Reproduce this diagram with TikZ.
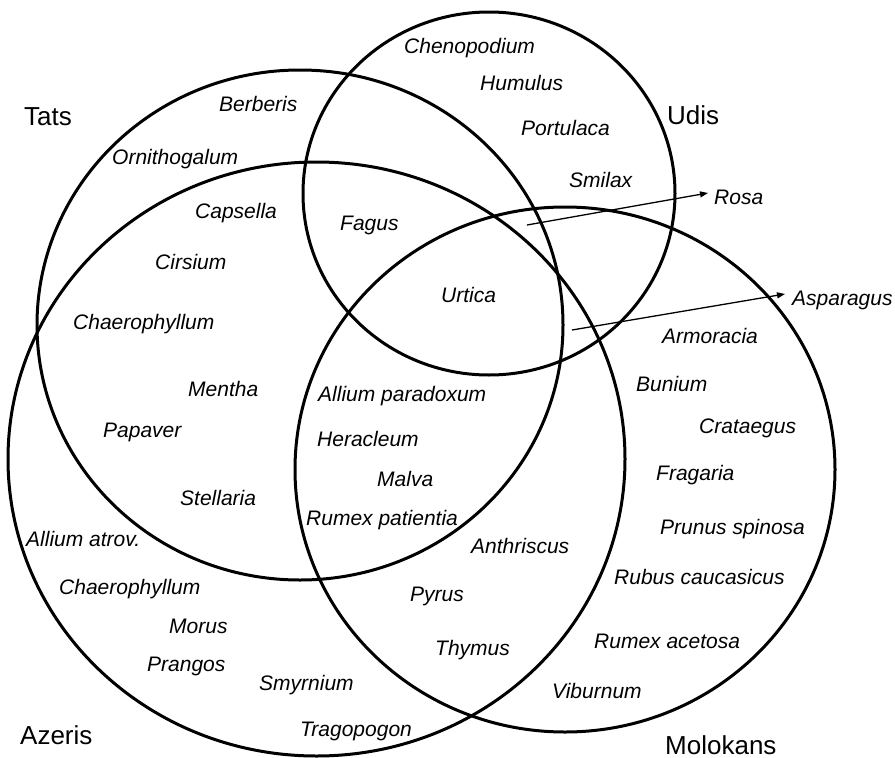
\documentclass[tikz,border=0pt]{standalone}
\usepackage{fontspec}
\setmainfont{Liberation Sans}
\usetikzlibrary{arrows.meta}
\begin{document}
\begin{tikzpicture}[x=1pt,y=-1pt,
  setline/.style={line width=3pt,black},
  sp/.style={inner sep=0pt,anchor=base west,font=\itshape\fontsize{21}{24}\selectfont},
  grp/.style={inner sep=0pt,anchor=base west,font=\fontsize{26}{30}\selectfont},
  arr/.style={line width=1.3pt,-{Triangle[length=8pt,width=6pt]}}]
\useasboundingbox (0,0) rectangle (895,758);
% sets
\draw[setline] (300,325) ellipse [x radius=263pt, y radius=255pt];
\draw[setline] (489,193.5) ellipse [x radius=186pt, y radius=181.5pt];
\draw[setline] (316.5,459) ellipse [x radius=308.5pt, y radius=297pt];
\draw[setline] (565,469.5) ellipse [x radius=270pt, y radius=262.5pt];
% group labels
\node[grp] (tats) at (24,125) {Tats};
\node[grp] (udis) at (667,124) {Udis};
\node[grp] (azeris) at (20,744) {Azeris};
\node[grp] (molokans) at (665,754) {Molokans};
% species
\node[sp] (chenopodium) at (404,53) {Chenopodium};
\node[sp] (humulus) at (480,90) {Humulus};
\node[sp] (berberis) at (219,111) {Berberis};
\node[sp] (portulaca) at (521,135) {Portulaca};
\node[sp] (ornithogalum) at (112,164) {Ornithogalum};
\node[sp] (smilax) at (569,187) {Smilax};
\node[sp] (rosa) at (714,204) {Rosa};
\node[sp] (capsella) at (195,218) {Capsella};
\node[sp] (fagus) at (340,230) {Fagus};
\node[sp] (cirsium) at (155,269) {Cirsium};
\node[sp] (urtica) at (441,302) {Urtica};
\node[sp] (asparagus) at (792,305) {Asparagus};
\node[sp] (chaero1) at (73,329) {Chaerophyllum};
\node[sp] (armoracia) at (662,343) {Armoracia};
\node[sp] (mentha) at (188,396) {Mentha};
\node[sp] (bunium) at (636,391) {Bunium};
\node[sp] (alliumpar) at (318,401) {Allium paradoxum};
\node[sp] (crataegus) at (699,433) {Crataegus};
\node[sp] (papaver) at (103,437) {Papaver};
\node[sp] (heracleum) at (317,446) {Heracleum};
\node[sp] (fragaria) at (656,480) {Fragaria};
\node[sp] (malva) at (377,486) {Malva};
\node[sp] (stellaria) at (180,505) {Stellaria};
\node[sp] (rumexpat) at (306,525) {Rumex patientia};
\node[sp] (prunus) at (660,534) {Prunus spinosa};
\node[sp] (alliumatr) at (26,546) {Allium atrov.};
\node[sp] (anthriscus) at (471,553) {Anthriscus};
\node[sp] (rubus) at (614,584) {Rubus caucasicus};
\node[sp] (chaero2) at (59,594) {Chaerophyllum};
\node[sp] (pyrus) at (410,601) {Pyrus};
\node[sp] (morus) at (169,633) {Morus};
\node[sp] (rumexace) at (594,648) {Rumex acetosa};
\node[sp] (thymus) at (435,655) {Thymus};
\node[sp] (prangos) at (147,671) {Prangos};
\node[sp] (smyrnium) at (259,690) {Smyrnium};
\node[sp] (viburnum) at (552,698) {Viburnum};
\node[sp] (tragopogon) at (300,736) {Tragopogon};
% arrows
\coordinate (rosastart) at (527,225);
\coordinate (asparstart) at (572,330);
\draw[arr] (rosastart) -- ([xshift=-6pt,yshift=11pt]rosa.base west);
\draw[arr] (asparstart) -- ([xshift=-7pt,yshift=11pt]asparagus.base west);
\end{tikzpicture}
\end{document}
